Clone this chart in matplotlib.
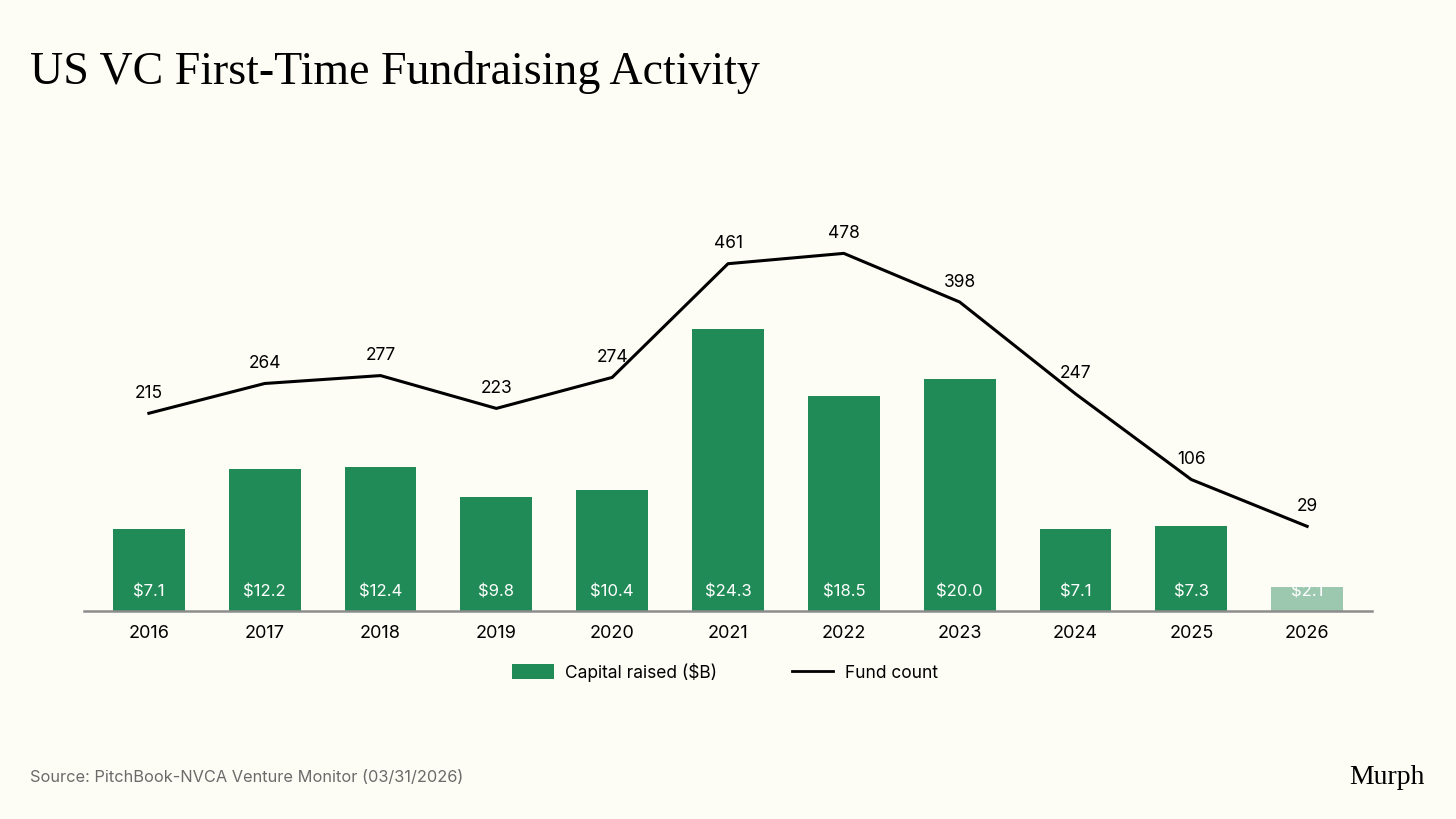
import matplotlib.pyplot as plt
from matplotlib.patches import Patch
from matplotlib.lines import Line2D

years = ["2016", "2017", "2018", "2019", "2020", "2021", "2022", "2023", "2024", "2025", "2026"]
capital = [7.1, 12.2, 12.4, 9.8, 10.4, 24.3, 18.5, 20.0, 7.1, 7.3, 2.1]
fund_count = [215, 264, 277, 223, 274, 461, 478, 398, 247, 106, 29]

BG = "#FDFDF5"
GREEN = "#218B57"
plt.rcParams["font.family"] = ["Inter", "DejaVu Sans"]

fig = plt.figure(figsize=(14.56, 8.19), dpi=100, facecolor=BG)
ax = fig.add_axes([84 / 1456, 1 - 611 / 819, (1372 - 84) / 1456, 411 / 819])
ax.set_facecolor(BG)
ax2 = ax.twinx()

x = list(range(len(years)))
colors = [GREEN] * (len(years) - 1) + ["#9DC8B0"]
ax.bar(x, capital, width=0.62, color=colors, zorder=2)
for xi, v in zip(x, capital):
    ax.annotate(f"${v:.1f}", (xi, 0), xytext=(0, 19), textcoords="offset pixels",
                ha="center", va="center", color="white", fontsize=12)

ax2.plot(x, fund_count, color="black", lw=2.2, zorder=3)
for xi, v in zip(x, fund_count):
    ax2.annotate(str(v), (xi, v), xytext=(0, 20), textcoords="offset pixels",
                 ha="center", va="center", color="black", fontsize=12.5)

ax.set_xlim(-0.56, 10.56)
ax.set_ylim(0, 411 / 11.6)
ax2.set_ylim(-110.2, -110.2 + 411 / 0.608)

for a in (ax, ax2):
    for s in a.spines.values():
        s.set_visible(False)
    a.set_yticks([])
ax.spines["bottom"].set_visible(True)
ax.spines["bottom"].set_color("#8C8C8C")
ax.spines["bottom"].set_linewidth(1.8)
ax.set_xticks(x)
ax.set_xticklabels(years, fontsize=13)
ax.tick_params(axis="x", length=0, pad=10)

handles = [Patch(facecolor=GREEN, label="Capital raised ($B)"),
           Line2D([0], [0], color="black", lw=2, label="Fund count")]
fig.legend(handles=handles, loc="center", bbox_to_anchor=(725 / 1456, 1 - 672 / 819),
           ncol=2, frameon=False, fontsize=12.5, handlelength=2.4, handleheight=1.0,
           columnspacing=4.3, handletextpad=0.65)

fig.text(30 / 1456, 1 - 72 / 819, "US VC First-Time Fundraising Activity", family="Liberation Serif",
         fontsize=33, va="center", ha="left", color="black")
fig.text(30 / 1456, 1 - 777 / 819, "Source: PitchBook-NVCA Venture Monitor (03/31/2026)",
         fontsize=11.8, va="center", ha="left", color="#6B6B6B")
fig.text(1425 / 1456, 1 - 777 / 819, "Murph", family="Liberation Serif",
         fontsize=20, va="center", ha="right", color="black")

fig.savefig("out.png", dpi=100, facecolor=BG)
